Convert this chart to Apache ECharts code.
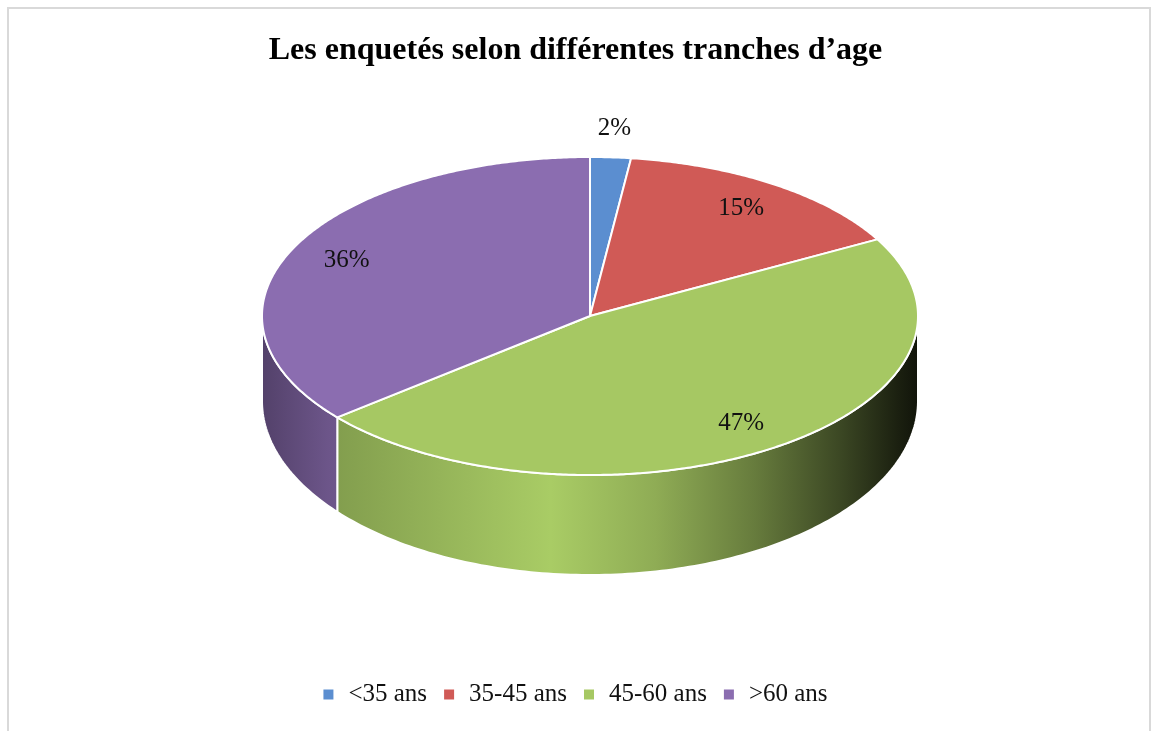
<!DOCTYPE html>
<html>
<head>
<meta charset="utf-8">
<script src="https://cdn.jsdelivr.net/npm/echarts@6/dist/echarts.min.js"></script>
<style>
html,body{margin:0;padding:0;background:#fff;}
#chart{width:1151px;height:731px;}
</style>
</head>
<body>
<div id="chart"></div>
<script>
const titleText = 'Les enquetés selon différentes tranches d’age';
const categories = ['<35 ans', '35-45 ans', '45-60 ans', '>60 ans'];
const values = [2, 15, 47, 36];
const colors = ['#5B8ED0', '#D05A56', '#A6C863', '#8B6DB0'];

const chart = echarts.init(document.getElementById('chart'), null, {renderer: 'canvas'});
const total = values.reduce((a, b) => a + b, 0);

// layout of the tilted pie (pixels): top ellipse and (perspective) bottom ellipse
const CX = 590, CY = 316, RX = 328, RY = 159;
const CYB = 401, RYB = 174;
const rad = d => d * Math.PI / 180;

function shade(hex, f) {
  const n = parseInt(hex.slice(1), 16);
  const r = Math.min(255, Math.round(((n >> 16) & 255) * f));
  const g = Math.min(255, Math.round(((n >> 8) & 255) * f));
  const b = Math.min(255, Math.round((n & 255) * f));
  return 'rgb(' + r + ',' + g + ',' + b + ')';
}
function sideGradient(hex) {
  const st = [[0, 0.6], [0.1, 0.78], [0.44, 1.02], [0.6, 0.86], [0.75, 0.62], [0.88, 0.36], [0.97, 0.16], [1, 0.1]];
  return new echarts.graphic.LinearGradient(CX - RX, 0, CX + RX, 0,
    st.map(s => ({offset: s[0], color: shade(hex, s[1])})), true);
}

function renderSlice(params, api) {
  const i = params.seriesIndex;
  let before = 0;
  for (let j = 0; j < i; j++) before += values[j];
  const v = api.value(0);
  const a0 = -90 + before / total * 360;
  const a1 = a0 + v / total * 360;
  const pt = a => [CX + RX * Math.cos(rad(a)), CY + RY * Math.sin(rad(a))];
  const pb = a => [CX + RX * Math.cos(rad(a)), CYB + RYB * Math.sin(rad(a))];
  const children = [];
  // front side wall
  const s = Math.max(a0, 0), e = Math.min(a1, 180);
  if (e > s) {
    const pts = [];
    for (let a = s; a < e; a += 1) pts.push(pt(a));
    pts.push(pt(e));
    for (let a = e; a > s; a -= 1) pts.push(pb(a));
    pts.push(pb(s));
    children.push({
      type: 'polygon', shape: {points: pts},
      style: {fill: sideGradient(colors[i]), stroke: '#ffffff', lineWidth: 2}
    });
  }
  // top face
  const top = [[CX, CY]];
  for (let a = a0; a < a1; a += 0.5) top.push(pt(a));
  top.push(pt(a1));
  children.push({
    type: 'polygon', shape: {points: top},
    style: {fill: colors[i], stroke: '#ffffff', lineWidth: 2, lineJoin: 'round'}
  });
  // label
  const mid = (a0 + a1) / 2;
  const pct = v / total * 100;
  const f = pct < 5 ? 1.18 : 0.82;
  const lp = [CX + RX * f * Math.cos(rad(mid)), CY + RY * f * Math.sin(rad(mid))];
  children.push({
    type: 'text', z2: 100,
    style: {
      text: Math.round(pct) + '%', x: lp[0], y: lp[1],
      font: '25px "Liberation Serif"', fill: '#111111',
      align: 'center', verticalAlign: 'middle'
    }
  });
  return {type: 'group', children: children};
}

const series = categories.map((name, i) => ({
  type: 'custom',
  name: name,
  coordinateSystem: 'none',
  itemStyle: {color: colors[i]},
  data: [[values[i]]],
  renderItem: renderSlice,
  animation: false
}));

chart.setOption({
  backgroundColor: '#ffffff',
  animation: false,
  title: {
    text: titleText,
    left: 'center',
    top: 30,
    textStyle: {fontFamily: 'Liberation Serif', fontWeight: 'bold', fontSize: 32, color: '#000000'}
  },
  legend: {
    data: categories,
    bottom: 19,
    left: 'center',
    icon: 'rect',
    itemWidth: 10,
    itemHeight: 10,
    itemGap: 17,
    textStyle: {fontFamily: 'Liberation Serif', fontSize: 25, color: '#111111', padding: [0, 0, 0, 10]}
  },
  graphic: [{
    type: 'rect', silent: true, z: -1,
    shape: {x: 8, y: 8, width: 1142, height: 730},
    style: {fill: 'none', stroke: '#d9d9d9', lineWidth: 2}
  }],
  series: series
});
</script>
</body>
</html>
